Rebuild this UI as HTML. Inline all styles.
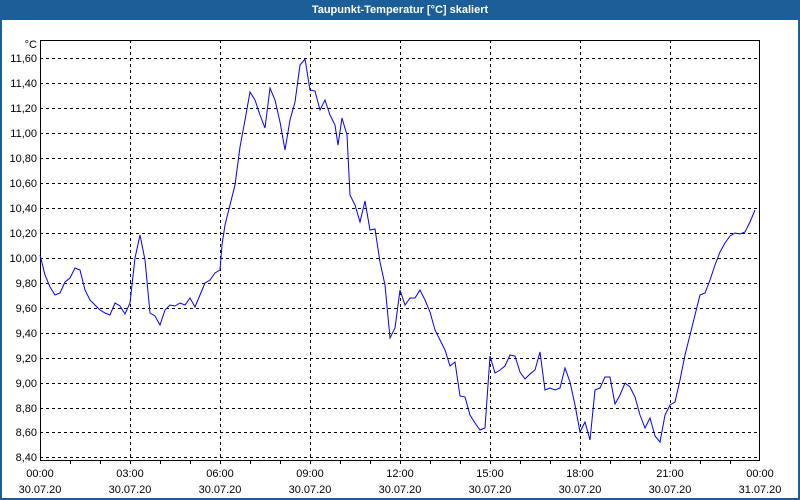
<!DOCTYPE html>
<html><head><meta charset="utf-8"><style>
html,body{margin:0;padding:0;background:#fff;width:800px;height:500px;overflow:hidden}
svg{display:block}
text{font-family:"Liberation Sans",sans-serif;font-size:11px;fill:#000}
</style></head><body>
<svg width="800" height="500" viewBox="0 0 800 500">
<rect x="0" y="0" width="800" height="500" fill="#1c5e97"/>
<rect x="2" y="20" width="796" height="478" fill="#fff"/>
<text x="400" y="13" text-anchor="middle" style="fill:#fff;font-weight:bold;font-size:11px">Taupunkt-Temperatur [°C] skaliert</text>
<g stroke="#000" stroke-width="1" stroke-dasharray="3,3" fill="none">
<path d="M40 58.5H760M40 83.5H760M40 108.5H760M40 133.5H760M40 158.5H760M40 183.5H760M40 208.5H760M40 233.5H760M40 258.5H760M40 283.5H760M40 308.5H760M40 333.5H760M40 358.5H760M40 383.5H760M40 408.5H760M40 432.5H760M40 457.5H760"/>
<path d="M130.5 40V461M220.5 40V461M310.5 40V461M400.5 40V461M490.5 40V461M580.5 40V461M670.5 40V461"/>
</g>
<rect x="40.5" y="40.5" width="719" height="420" fill="none" stroke="#000"/>
<g stroke="#000"><path d="M70.5 461V464M100.5 461V464M130.5 461V464M160.5 461V464M190.5 461V464M220.5 461V464M250.5 461V464M280.5 461V464M310.5 461V464M340.5 461V464M370.5 461V464M400.5 461V464M430.5 461V464M460.5 461V464M490.5 461V464M520.5 461V464M550.5 461V464M580.5 461V464M610.5 461V464M640.5 461V464M670.5 461V464M700.5 461V464M730.5 461V464"/></g>
<g text-anchor="end">
<text x="37" y="48">°C</text>
<text x="37" y="62">11,60</text><text x="37" y="87">11,40</text><text x="37" y="112">11,20</text><text x="37" y="137">11,00</text><text x="37" y="162">10,80</text><text x="37" y="187">10,60</text><text x="37" y="212">10,40</text><text x="37" y="237">10,20</text><text x="37" y="262">10,00</text><text x="37" y="287">9,80</text><text x="37" y="312">9,60</text><text x="37" y="337">9,40</text><text x="37" y="362">9,20</text><text x="37" y="387">9,00</text><text x="37" y="412">8,80</text><text x="37" y="436">8,60</text><text x="37" y="461">8,40</text>
</g>
<g text-anchor="middle">
<text x="40" y="477">00:00</text><text x="40" y="493">30.07.20</text>
<text x="130" y="477">03:00</text><text x="130" y="493">30.07.20</text>
<text x="220" y="477">06:00</text><text x="220" y="493">30.07.20</text>
<text x="310" y="477">09:00</text><text x="310" y="493">30.07.20</text>
<text x="400" y="477">12:00</text><text x="400" y="493">30.07.20</text>
<text x="490" y="477">15:00</text><text x="490" y="493">30.07.20</text>
<text x="580" y="477">18:00</text><text x="580" y="493">30.07.20</text>
<text x="670" y="477">21:00</text><text x="670" y="493">30.07.20</text>
<text x="760" y="477">00:00</text><text x="760" y="493">31.07.20</text>
</g>
<polyline fill="none" stroke="#0000ff" stroke-width="1" points="40,255 45,275 50,287 55,295 60,293 65,282 70,278 75,268 80,270 85,290 90,300 95,305 100,310 105,313 110,315 115,303 120,306 125,314 130,303 135,258 140,235 145,260 150,313 155,316 160,325 165,310 170,305 175,306 180,303 185,305 190,298 195,307 200,295 205,283 210,280 215,273 220,270 222,245 225,225 230,205 235,185 240,147 245,120 250,92 255,100 260,115 265,128 270,88 275,100 280,122 285,150 290,120 295,102 300,65 305,59 310,90 315,91 320,110 325,100 330,115 335,125 338,145 342,118 347,135 350,195 355,205 360,222 365,201 370,230 375,229 380,262 385,285 390,338 395,328 400,290 405,305 410,298 415,298 420,290 425,300 430,312 435,330 440,340 445,350 450,366 455,362 460,396 465,397 470,415 475,423 480,430 485,428 490,356 495,373 500,370 505,366 510,355 515,356 520,372 525,379 530,374 535,370 540,352 545,390 550,388 555,390 560,388 565,368 570,382 575,405 580,432 585,422 590,440 595,390 600,388 605,377 610,377 615,404 620,395 625,383 630,387 635,397 640,415 645,428 650,418 655,436 660,442 665,415 670,405 675,402 680,380 685,355 690,335 695,315 700,295 705,293 710,280 715,265 720,252 725,243 730,236 735,233 740,234 745,232 750,222 755,210"/>
</svg>
</body></html>
